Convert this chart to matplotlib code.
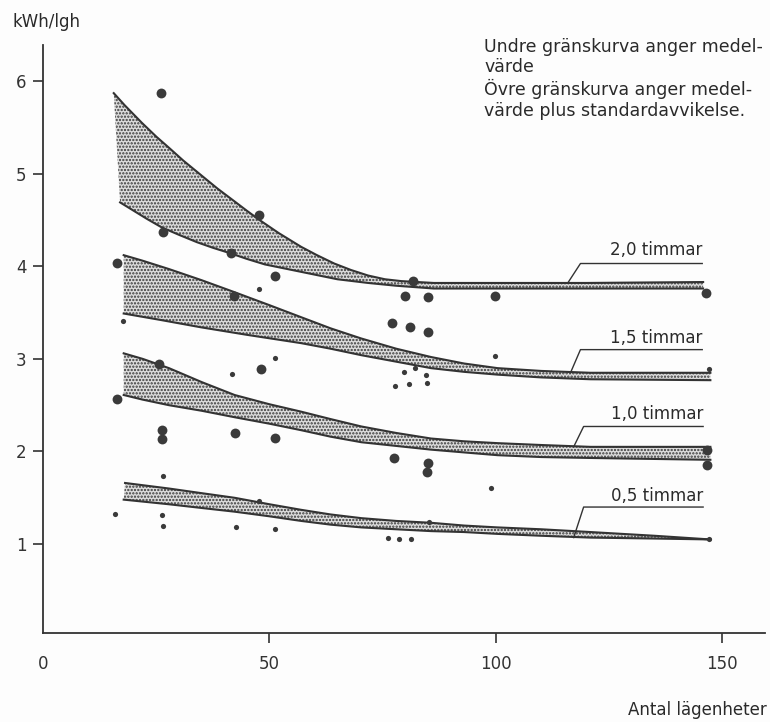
import matplotlib
matplotlib.use("Agg")
import matplotlib.pyplot as plt

plt.rcParams['font.family'] = ['DejaVu Sans']
plt.rcParams['hatch.linewidth'] = 1.1

INK = '#333333'

# band curves: (x, y) for mean (lower) and mean + sd (upper)
up_20_x = [15.6, 18, 21.8, 25, 27.8, 31, 35, 38.5, 42.3, 45, 47.8, 52, 57, 60.5, 64.3, 68,
           71.8, 75.5, 79.1, 82.7, 86.3, 93, 101.1, 120, 145.8]
up_20_y = [5.87, 5.74, 5.55, 5.40, 5.28, 5.14, 4.98, 4.84, 4.70, 4.60, 4.50, 4.36, 4.21, 4.12,
           4.03, 3.96, 3.90, 3.86, 3.84, 3.83, 3.82, 3.82, 3.82, 3.82, 3.83]
lo_20_x = [17.0, 20, 23, 26.2, 30, 34, 37.5, 41.4, 45, 49, 53, 57, 61, 65, 71.8, 78, 86.3, 100, 145.8]
lo_20_y = [4.69, 4.60, 4.51, 4.42, 4.34, 4.26, 4.20, 4.14, 4.08, 4.02, 3.98, 3.94, 3.90, 3.86,
           3.82, 3.79, 3.76, 3.76, 3.76]

up_15_x = [17.8, 22, 27.8, 35, 42.3, 50, 57, 63.5, 70.3, 78, 85.7, 93, 100.4, 110, 120.9, 147.4]
up_15_y = [4.12, 4.06, 3.97, 3.85, 3.72, 3.58, 3.45, 3.33, 3.22, 3.11, 3.02, 2.95, 2.90, 2.87, 2.85, 2.85]
lo_15_x = [17.8, 26, 35, 45, 57, 63.5, 70.3, 78, 85.7, 93, 100.4, 110, 120.9, 147.4]
lo_15_y = [3.49, 3.42, 3.34, 3.26, 3.17, 3.11, 3.04, 2.97, 2.90, 2.86, 2.83, 2.80, 2.78, 2.77]

up_10_x = [17.8, 22, 27.8, 35, 42.3, 50, 57, 63.5, 70.3, 78, 85.7, 93, 100.4, 110, 120.9, 147.4]
up_10_y = [3.06, 3.00, 2.90, 2.75, 2.61, 2.51, 2.43, 2.35, 2.27, 2.20, 2.14, 2.11, 2.09, 2.07, 2.05, 2.05]
lo_10_x = [17.8, 22, 27.8, 35, 42.3, 50, 57, 63.5, 70.3, 78, 85.7, 93, 100.4, 110, 120.9, 147.4]
lo_10_y = [2.61, 2.56, 2.50, 2.44, 2.37, 2.30, 2.23, 2.16, 2.10, 2.06, 2.02, 1.99, 1.96, 1.94, 1.93, 1.91]

up_05_x = [18.1, 27.8, 35, 42.3, 50, 57, 63.5, 70.3, 78, 85.7, 93, 100.4, 110, 120.9, 135, 147.4]
up_05_y = [1.66, 1.60, 1.55, 1.50, 1.43, 1.37, 1.32, 1.28, 1.25, 1.23, 1.20, 1.18, 1.16, 1.13, 1.09, 1.05]
lo_05_x = [17.8, 27.8, 35, 42.3, 50, 57, 63.5, 70.3, 78, 85.7, 93, 100.4, 110, 120.9, 135, 147.4]
lo_05_y = [1.48, 1.43, 1.39, 1.35, 1.30, 1.25, 1.21, 1.18, 1.16, 1.14, 1.13, 1.11, 1.09, 1.07, 1.06, 1.05]

# measured points
big_x = [26.1, 26.4, 41.5, 47.7, 51.3, 16.3, 42.1, 77.0, 25.5, 48.2, 16.3, 26.2, 26.2, 42.4,
         51.3, 77.6, 81.7, 80.0, 85.0, 99.8, 81.1, 85.1, 85.0, 84.8, 146.4, 146.6, 146.6]
big_y = [5.87, 4.37, 4.14, 4.55, 3.90, 4.04, 3.68, 3.39, 2.95, 2.89, 2.57, 2.23, 2.13, 2.20,
         2.15, 1.93, 3.84, 3.68, 3.67, 3.68, 3.34, 3.29, 1.88, 1.78, 3.71, 2.02, 1.85]
small_x = [47.6, 17.6, 51.3, 41.8, 77.8, 26.4, 15.9, 26.2, 26.5, 47.7, 42.7, 51.2, 99.8, 79.8,
           82.2, 84.6, 80.9, 84.9, 98.9, 85.3, 76.1, 78.7, 81.3, 147.1, 147.2]
small_y = [3.76, 3.41, 3.01, 2.84, 2.71, 1.73, 1.32, 1.31, 1.20, 1.46, 1.18, 1.16, 3.03, 2.86,
           2.90, 2.83, 2.73, 2.74, 1.61, 1.24, 1.07, 1.06, 1.06, 2.89, 1.05]

labels = ['2,0 timmar', '1,5 timmar', '1,0 timmar', '0,5 timmar']
leader_x = [[115.9, 118.7, 145.6], [116.5, 118.7, 145.6], [117.2, 119.4, 145.8], [117.2, 119.4, 145.8]]
leader_y = [[3.82, 4.03, 4.03], [2.85, 3.10, 3.10], [2.05, 2.27, 2.27], [1.07, 1.40, 1.40]]
label_y = [4.18, 3.23, 2.40, 1.52]

bands = [(up_20_x, up_20_y, lo_20_x, lo_20_y),
         (up_15_x, up_15_y, lo_15_x, lo_15_y),
         (up_10_x, up_10_y, lo_10_x, lo_10_y),
         (up_05_x, up_05_y, lo_05_x, lo_05_y)]

fig = plt.figure(figsize=(7.7, 7.22), dpi=100, facecolor='#fdfdfd')
ax = fig.add_axes([0.056, 0.1233, 0.9377, 0.8144])
ax.set_facecolor('#fdfdfd')

for ux, uy, lx, ly in bands:
    px = ux + lx[::-1]
    py = uy + ly[::-1]
    ax.fill(px, py, facecolor='#dcdcdc', edgecolor='#383838', hatch='.....', linewidth=0, zorder=2)
    ax.plot(ux, uy, color=INK, lw=1.5, zorder=3, solid_joinstyle='round')
    ax.plot(lx, ly, color=INK, lw=1.5, zorder=3, solid_joinstyle='round')

ax.scatter(big_x, big_y, s=50, color='#3a3a3a', zorder=4, linewidths=0)
ax.scatter(small_x, small_y, s=14, color='#3a3a3a', zorder=4, linewidths=0)

for lab, lxs, lys, ty in zip(labels, leader_x, leader_y, label_y):
    ax.plot(lxs, lys, color=INK, lw=1.0, zorder=3)
    ax.text(lxs[-1], ty, lab, ha='right', va='center', fontsize=12, color='#2a2a2a')

ax.set_xlim(0.4, 159.5)
ax.set_ylim(0.04, 6.39)
ax.spines['top'].set_visible(False)
ax.spines['right'].set_visible(False)
ax.spines['left'].set_color(INK)
ax.spines['bottom'].set_color(INK)
ax.spines['left'].set_linewidth(1.3)
ax.spines['bottom'].set_linewidth(1.3)

ax.set_xticks([0, 50, 100, 150])
ax.set_xticklabels(['0', '50', '100', '150'])
ax.set_yticks([1, 2, 3, 4, 5, 6])
ax.set_yticklabels(['1', '2', '3', '4', '5', '6'])
ax.tick_params(axis='x', direction='out', length=7, width=1.2, pad=9, labelsize=12, colors=INK)
ax.tick_params(axis='y', direction='out', length=7, width=1.2, pad=5, labelsize=12, colors=INK)
ax.xaxis.get_major_ticks()[0].tick1line.set_visible(False)

fig.text(0.016, 0.969, 'kWh/lgh', fontsize=12, color='#2a2a2a', va='center', ha='left')
fig.text(0.996, 0.017, 'Antal lägenheter', fontsize=12, color='#2a2a2a', va='center', ha='right')
fig.text(0.629, 0.948,
         'Undre gränskurva anger medel-\nvärde\nÖvre gränskurva anger medel-\nvärde plus standardavvikelse.',
         fontsize=12.5, color='#2a2a2a', va='top', ha='left', linespacing=1.18)

fig.savefig('out.png', dpi=100, facecolor=fig.get_facecolor())
